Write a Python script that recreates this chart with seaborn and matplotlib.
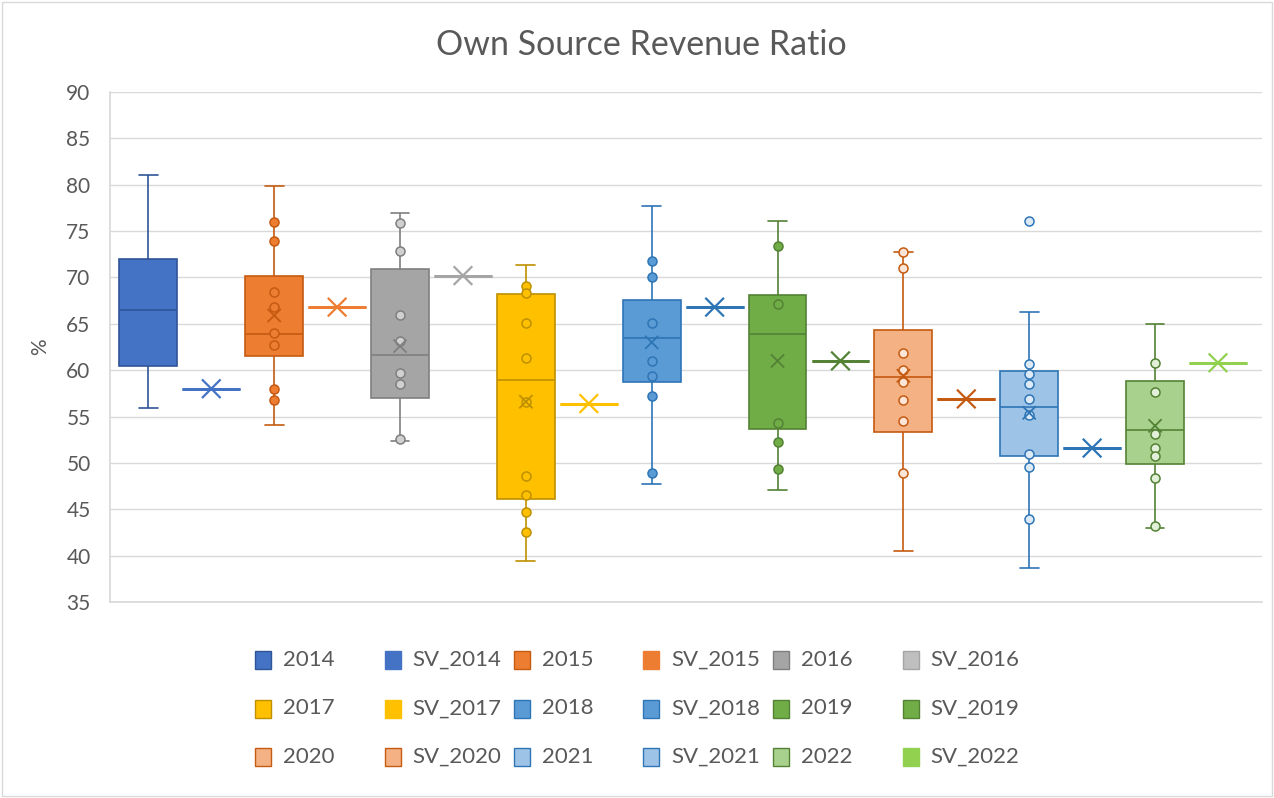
import numpy as np
import pandas as pd
import matplotlib
matplotlib.use("Agg")
import matplotlib.pyplot as plt
import seaborn as sns
from matplotlib.patches import Rectangle

years = ["2014", "2015", "2016", "2017", "2018", "2019", "2020", "2021", "2022"]
sv_names = ["SV_" + y for y in years]
categories = [c for pair in zip(years, sv_names) for c in pair]

# five number summary of each year's box
box_lo = [55.9, 54.1, 52.4, 39.4, 47.7, 47.1, 40.5, 38.7, 43.0]
box_q1 = [60.5, 61.5, 57.0, 46.1, 58.7, 53.7, 53.3, 50.7, 49.9]
box_med = [66.5, 63.9, 61.6, 58.9, 63.5, 63.9, 59.3, 56.0, 53.5]
box_q3 = [72.0, 70.2, 70.9, 68.2, 67.6, 68.1, 64.3, 59.9, 58.8]
box_hi = [81.1, 79.9, 76.9, 71.3, 77.7, 76.1, 72.7, 66.3, 65.0]
box_mean = [np.nan, 65.9, 62.6, 56.6, 63.0, 61.0, 59.4, 55.4, 54.0]

# single value series
sv_values = [58.0, 66.8, 70.2, 56.4, 66.8, 61.0, 56.9, 51.6, 60.8]

# inner points shown on each box
pts_2014 = []
pts_2015 = [76.0, 73.9, 68.4, 66.8, 64.0, 62.7, 58.0, 56.8]
pts_2016 = [75.9, 72.8, 66.0, 63.2, 59.7, 58.5, 52.6]
pts_2017 = [69.1, 68.3, 65.1, 61.3, 56.6, 48.6, 46.5, 44.7, 42.6]
pts_2018 = [71.8, 70.0, 65.1, 61.0, 59.4, 57.2, 48.9]
pts_2019 = [73.4, 67.1, 54.3, 52.3, 49.3]
pts_2020 = [72.7, 71.0, 61.9, 60.0, 58.7, 56.8, 54.5, 48.9]
pts_2021 = [76.1, 60.7, 59.6, 58.5, 56.9, 55.2, 51.0, 49.6, 44.0]
pts_2022 = [60.8, 57.7, 53.1, 51.6, 50.7, 48.4, 43.2]
year_points = [pts_2014, pts_2015, pts_2016, pts_2017, pts_2018,
               pts_2019, pts_2020, pts_2021, pts_2022]

year_fill = ["#4472C4", "#ED7D31", "#A5A5A5", "#FFC000", "#5B9BD5",
             "#70AD47", "#F4B183", "#9DC3E6", "#A9D18E"]
year_edge = ["#2F5597", "#C55A11", "#7F7F7F", "#BF9000", "#2E75B6",
             "#548235", "#C55A11", "#2E75B6", "#548235"]
pt_face = ["#4472C4", "#ED7D31", "#D0D0D0", "#FFC000", "#5B9BD5",
           "#70AD47", "#FBE5D6", "#DEEBF7", "#E2F0D9"]
sv_fill = ["#4472C4", "#ED7D31", "#BFBFBF", "#FFC000", "#5B9BD5",
           "#70AD47", "#F4B183", "#9DC3E6", "#92D050"]
sv_line = ["#4472C4", "#ED7D31", "#A5A5A5", "#FFC000", "#2E75B6",
           "#548235", "#C55A11", "#2E75B6", "#92D050"]

# long table: a box drawn from its five summary values, SV as a one-value box
rows = []
for i, yr in enumerate(years):
    for v in (box_lo[i], box_q1[i], box_med[i], box_q3[i], box_hi[i]):
        rows.append((yr, v))
    rows.append((sv_names[i], sv_values[i]))
df = pd.DataFrame(rows, columns=["series", "value"])

sns.set_theme(style="white")
plt.rcParams["font.family"] = ["Lato", "DejaVu Sans"]
text_col = "#595959"

W, H = 1274, 798
fig = plt.figure(figsize=(W / 100, H / 100), dpi=100)
ax = fig.add_axes([110 / W, 1 - 602 / H, (1262 - 110) / W, (602 - 92) / H])

box_w = 0.92
for i, yr in enumerate(years):
    sns.boxplot(data=df[df.series == yr], x="series", y="value", order=categories,
                color=year_fill[i], linecolor=year_edge[i], linewidth=1.2,
                width=box_w, whis=(0, 100), saturation=1, showfliers=False, ax=ax)
    sns.boxplot(data=df[df.series == sv_names[i]], x="series", y="value", order=categories,
                color=sv_fill[i], linecolor=sv_line[i], linewidth=2.0,
                width=box_w, whis=(0, 100), saturation=1, showfliers=False, ax=ax)

# Excel draws shorter whisker caps than seaborn
for ln in ax.lines:
    xd = np.asarray(ln.get_xdata(), dtype=float)
    yd = np.asarray(ln.get_ydata(), dtype=float)
    if len(xd) == 2 and yd[0] == yd[1] and abs(abs(xd[1] - xd[0]) - box_w / 2) < 1e-6:
        mid = xd.mean()
        ln.set_xdata([mid - 0.15, mid + 0.15])

for i, yr in enumerate(years):
    pts = year_points[i]
    if len(pts) == 0:
        continue
    sns.stripplot(x=[yr] * len(pts), y=pts, order=categories, jitter=False,
                  color=pt_face[i], edgecolor=year_edge[i], linewidth=1.1,
                  size=6.5, zorder=4, ax=ax)

pos = {c: k for k, c in enumerate(categories)}
ax.scatter([pos[y] for y in years], box_mean, marker="x", c=year_edge,
           s=90, linewidths=1.3, zorder=5)
ax.scatter([pos[s] for s in sv_names], sv_values, marker="x", c=sv_line,
           s=180, linewidths=1.6, zorder=5)

ax.set_xlim(-0.61, 17.7)
ax.set_ylim(35, 90)
ax.set_yticks(range(35, 91, 5))
ax.set_xticks([])
ax.set_xlabel("")
ax.set_ylabel("%", fontsize=15, color=text_col)
ax.yaxis.set_label_coords(-0.052, 0.5)
ax.yaxis.grid(True, color="#D9D9D9", lw=1)
ax.set_axisbelow(True)
for s in ["top", "right"]:
    ax.spines[s].set_visible(False)
ax.spines["left"].set_color("#D9D9D9")
ax.spines["bottom"].set_color("#D9D9D9")
ax.tick_params(axis="y", length=0, labelsize=15, labelcolor=text_col, pad=14)

fig.text(641 / W, 1 - 45 / H, "Own Source Revenue Ratio", ha="center", va="center",
         fontsize=24.5, color=text_col)

# legend laid out like Excel: 3 rows x 6 columns
leg_fill = [c for pair in zip(year_fill, sv_fill) for c in pair]
leg_edge = [c for pair in zip(year_edge, sv_line) for c in pair]
for k, name in enumerate(categories):
    r, c = divmod(k, 6)
    x0 = 255 + c * 129.5
    yc = 660 + r * 48.5
    fig.add_artist(Rectangle((x0 / W, 1 - (yc + 9) / H), 16 / W, 18 / H,
                             transform=fig.transFigure, facecolor=leg_fill[k],
                             edgecolor=leg_edge[k], lw=1))
    fig.text((x0 + 28) / W, 1 - yc / H, name, ha="left", va="center",
             fontsize=16, color=text_col)

fig.add_artist(Rectangle((2 / W, 2 / H), (W - 4) / W, (H - 4) / H,
                         transform=fig.transFigure, fill=False,
                         edgecolor="#D9D9D9", lw=1))

fig.savefig("out.png", dpi=100, facecolor="white")
